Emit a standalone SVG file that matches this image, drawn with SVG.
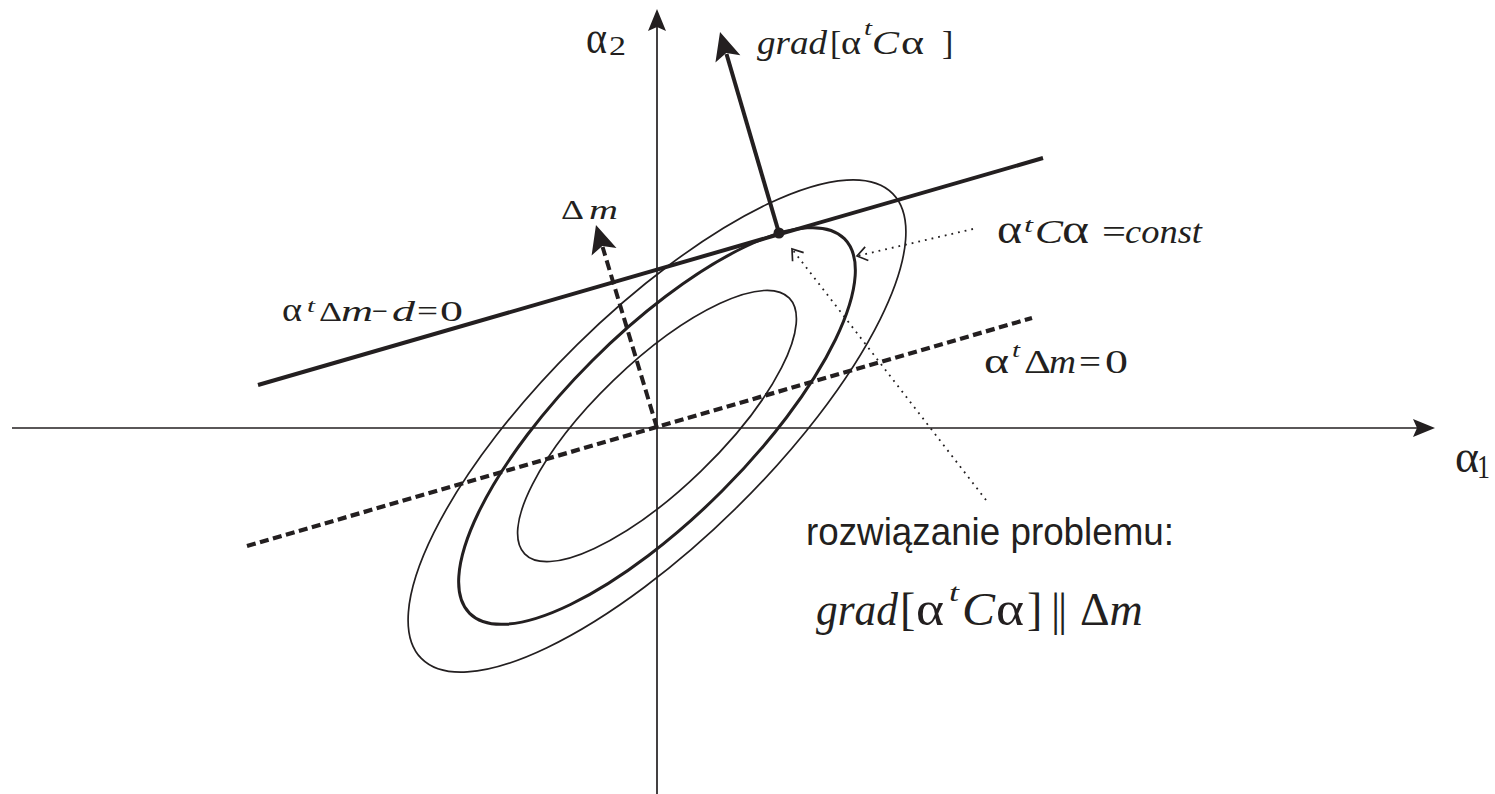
<svg xmlns="http://www.w3.org/2000/svg" width="1495" height="794" viewBox="0 0 1495 794">
<style>
.ax{stroke:#231f20;stroke-width:1.7;fill:none}
.ell{stroke:#231f20;stroke-width:1.7;fill:none}
.ellb{stroke:#231f20;stroke-width:3;fill:none}
.thick{stroke:#231f20;stroke-width:4;fill:none}
.dash{stroke:#231f20;stroke-width:4.2;fill:none;stroke-dasharray:9 4.5}
.dash2{stroke:#231f20;stroke-width:4;fill:none;stroke-dasharray:10 5}
.dot{stroke:#231f20;stroke-width:1.8;fill:none;stroke-dasharray:1.8 5}
text{fill:#231f20}
.s{font-family:"Liberation Serif","Times New Roman",serif}
.i{font-family:"Liberation Serif","Times New Roman",serif;font-style:italic}
.a{font-family:"Liberation Sans",Arial,sans-serif}
</style>
<defs>
<marker id="axArrow" markerUnits="userSpaceOnUse" markerWidth="22" markerHeight="18" refX="4" refY="9" orient="auto" overflow="visible"><path d="M0,0 L22,9 L0,18 L4,9 Z" fill="#231f20"/></marker>
<marker id="bigArrow" markerUnits="userSpaceOnUse" markerWidth="28" markerHeight="26" refX="5" refY="13" orient="auto" overflow="visible"><path d="M0,0 L28,13 L0,26 L6,13 Z" fill="#231f20"/></marker>
<marker id="openArrow" markerUnits="userSpaceOnUse" markerWidth="14" markerHeight="16" refX="11" refY="7" orient="auto" overflow="visible"><path d="M1,0 L11,7 L1,14" fill="none" stroke="#231f20" stroke-width="1.7"/></marker>
</defs>

<g id="ellipses">
<ellipse class="ell" cx="0" cy="0" rx="184" ry="63" transform="translate(657,426) rotate(-44)"/>
<ellipse class="ellb" cx="0" cy="0" rx="265" ry="92" transform="translate(657,426) rotate(-45)"/>
<ellipse class="ell" cx="0" cy="0" rx="331" ry="114" transform="translate(657,426) rotate(-44.6)"/>
</g>

<g id="constraint-line"><line class="thick" x1="258" y1="385" x2="1043" y2="158"/></g>
<g id="zero-line"><line class="dash" x1="247" y1="546" x2="1032" y2="318"/></g>
<g id="tangent-point"><circle cx="779" cy="233" r="5.5" fill="#231f20"/></g>

<g id="connectors">
<line class="ax" x1="12" y1="428" x2="1417" y2="428" marker-end="url(#axArrow)"/>
<line class="ax" x1="657" y1="794" x2="657" y2="27" marker-end="url(#axArrow)"/>
<line class="thick" x1="779" y1="233" x2="726.5" y2="54" marker-end="url(#bigArrow)"/>
<line class="dash2" x1="657" y1="428" x2="602.6" y2="247" marker-end="url(#bigArrow)"/>
<line class="dot" x1="973" y1="229" x2="857" y2="256" marker-end="url(#openArrow)"/>
<line class="dot" x1="986" y1="500" x2="792" y2="249" marker-end="url(#openArrow)"/>
</g>

<g id="label-alpha2">
<text class="s" x="586" y="53" font-size="46" textLength="21" lengthAdjust="spacingAndGlyphs">α</text>
<text class="s" x="609" y="55" font-size="27" textLength="17" lengthAdjust="spacingAndGlyphs">2</text>
</g>
<g id="label-alpha1">
<text class="s" x="1455" y="472" font-size="46" textLength="24" lengthAdjust="spacingAndGlyphs">α</text>
<text class="s" x="1477" y="478" font-size="34" textLength="13" lengthAdjust="spacingAndGlyphs">1</text>
</g>

<g id="label-grad-top">
<text class="i" x="757" y="54" font-size="34" textLength="70" lengthAdjust="spacingAndGlyphs">grad</text>
<text class="s" x="830" y="54" font-size="34">[</text>
<text class="s" x="841" y="54" font-size="33" textLength="20" lengthAdjust="spacingAndGlyphs">α</text>
<text class="i" x="864" y="35" font-size="20" textLength="8" lengthAdjust="spacingAndGlyphs">t</text>
<text class="i" x="872" y="54" font-size="34" textLength="27" lengthAdjust="spacingAndGlyphs">C</text>
<text class="s" x="901" y="54" font-size="33" textLength="23" lengthAdjust="spacingAndGlyphs">α</text>
<text class="s" x="942" y="54" font-size="34">]</text>
</g>

<g id="label-dm">
<text class="s" x="561" y="219" font-size="27" textLength="23" lengthAdjust="spacingAndGlyphs">Δ</text>
<text class="i" x="589" y="219" font-size="27" textLength="29" lengthAdjust="spacingAndGlyphs">m</text>
</g>

<g id="label-const">
<text class="s" x="997" y="243" font-size="40" textLength="25" lengthAdjust="spacingAndGlyphs">α</text>
<text class="i" x="1024" y="232" font-size="21" textLength="9" lengthAdjust="spacingAndGlyphs">t</text>
<text class="i" x="1035" y="243" font-size="34" textLength="28" lengthAdjust="spacingAndGlyphs">C</text>
<text class="s" x="1062" y="243" font-size="40" textLength="27" lengthAdjust="spacingAndGlyphs">α</text>
<text class="s" x="1102" y="243" font-size="34" textLength="24" lengthAdjust="spacingAndGlyphs">=</text>
<text class="i" x="1125" y="243" font-size="34" textLength="77" lengthAdjust="spacingAndGlyphs">const</text>
</g>

<g id="label-constraint">
<text class="s" x="282" y="320.5" font-size="34" textLength="20" lengthAdjust="spacingAndGlyphs">α</text>
<text class="i" x="307" y="312" font-size="19" textLength="8" lengthAdjust="spacingAndGlyphs">t</text>
<text class="s" x="319" y="320.5" font-size="27" textLength="23" lengthAdjust="spacingAndGlyphs">Δ</text>
<text class="i" x="341" y="320.5" font-size="30" textLength="32" lengthAdjust="spacingAndGlyphs">m</text>
<text class="s" x="372" y="320.5" font-size="30" textLength="16" lengthAdjust="spacingAndGlyphs">−</text>
<text class="i" x="392" y="320.5" font-size="30" textLength="23" lengthAdjust="spacingAndGlyphs">d</text>
<text class="s" x="417" y="320.5" font-size="30" textLength="21" lengthAdjust="spacingAndGlyphs">=</text>
<text class="s" x="440" y="320.5" font-size="30" textLength="23" lengthAdjust="spacingAndGlyphs">0</text>
</g>

<g id="label-zero">
<text class="s" x="984" y="373" font-size="35" textLength="25" lengthAdjust="spacingAndGlyphs">α</text>
<text class="i" x="1012" y="357" font-size="20" textLength="8" lengthAdjust="spacingAndGlyphs">t</text>
<text class="s" x="1024" y="373" font-size="34" textLength="27" lengthAdjust="spacingAndGlyphs">Δ</text>
<text class="i" x="1049" y="373" font-size="34" textLength="27" lengthAdjust="spacingAndGlyphs">m</text>
<text class="s" x="1079" y="373" font-size="34" textLength="22" lengthAdjust="spacingAndGlyphs">=</text>
<text class="s" x="1105" y="373" font-size="34" textLength="23" lengthAdjust="spacingAndGlyphs">0</text>
</g>

<g id="label-solution">
<text class="a" x="806" y="545" font-size="38" textLength="368" lengthAdjust="spacingAndGlyphs">rozwiązanie problemu:</text>
</g>

<g id="label-grad-bottom">
<text class="i" x="816" y="625" font-size="46" textLength="82" lengthAdjust="spacingAndGlyphs">grad</text>
<text class="s" x="900" y="625" font-size="46">[</text>
<text class="s" x="916" y="625" font-size="48" textLength="28" lengthAdjust="spacingAndGlyphs">α</text>
<text class="i" x="949" y="601" font-size="26" textLength="10" lengthAdjust="spacingAndGlyphs">t</text>
<text class="i" x="962" y="625" font-size="46" textLength="33" lengthAdjust="spacingAndGlyphs">C</text>
<text class="s" x="996" y="625" font-size="48" textLength="28" lengthAdjust="spacingAndGlyphs">α</text>
<text class="s" x="1027" y="625" font-size="46">]</text>
<text class="s" x="1051" y="625" font-size="46">|</text>
<text class="s" x="1058" y="625" font-size="46">|</text>
<text class="s" x="1080" y="625" font-size="46">Δ<tspan font-style="italic">m</tspan></text>
</g>
</svg>
